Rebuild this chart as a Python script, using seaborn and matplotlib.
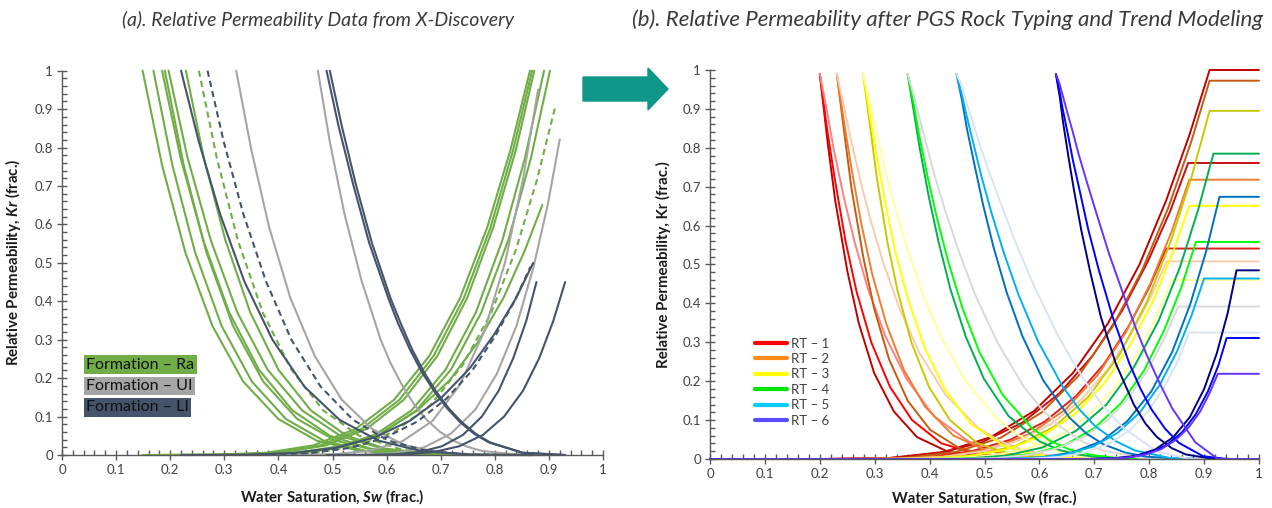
import matplotlib
matplotlib.use("Agg")
import matplotlib.pyplot as plt
import seaborn as sns
from matplotlib.ticker import MultipleLocator, FuncFormatter
from matplotlib.patches import FancyArrow
from matplotlib.lines import Line2D

sns.set_theme(style="white")
plt.rcParams['font.family'] = ['Lato', 'DejaVu Sans']
plt.rcParams['mathtext.fontset'] = 'custom'
try:
    plt.rcParams['mathtext.bfit'] = 'Lato:italic:bold'
    BFIT = True
except KeyError:
    BFIT = False

# ======================= panel (a): X-Discovery data =======================
left_group = ['Ra', 'Ra', 'Ra', 'Ra', 'Ra', 'Ra', 'Ra', 'UI', 'UI', 'LI', 'LI', 'LI', 'LI']
left_dashed = [False, False, False, False, False, False, True, False, False, False, True, False, False]
left_oil_sw = [
    [.149, .185, .228, .278, .335, .400, .471, .550, .636, .736, .865],
    [.169, .204, .246, .295, .351, .414, .484, .561, .645, .743, .869],
    [.185, .219, .261, .309, .364, .426, .495, .570, .653, .749, .873],
    [.190, .225, .267, .316, .372, .435, .506, .583, .667, .765, .891],
    [.197, .232, .275, .324, .380, .444, .514, .592, .676, .775, .902],
    [.229, .262, .302, .348, .400, .460, .526, .598, .677, .769, .888],
    [.253, .286, .325, .371, .424, .483, .549, .622, .700, .793, .911],
    [.322, .350, .383, .422, .467, .517, .573, .635, .701, .780, .880],
    [.473, .495, .522, .554, .589, .607, .630, .652, .674, .699, .723, .750, .777, .840, .920],
    [.220, .253, .292, .337, .389, .448, .513, .585, .663, .754, .871],
    [.269, .299, .335, .377, .424, .478, .538, .603, .675, .759, .866],
    [.489, .511, .538, .568, .604, .621, .643, .665, .688, .712, .736, .762, .789, .851, .930],
    [.495, .517, .543, .573, .608, .626, .647, .669, .691, .715, .739, .765, .791, .852, .930],
]
left_oil_kr = [
    [1, .754, .527, .336, .191, .0935, .0373, .0109, .0019, .0001, 0],
    [1, .754, .527, .336, .191, .0935, .0373, .0109, .0019, .0001, 0],
    [1, .774, .559, .371, .222, .116, .0503, .0165, .0034, .0002, 0],
    [1, .754, .527, .336, .191, .0935, .0373, .0109, .0019, .0001, 0],
    [1, .774, .559, .371, .222, .116, .0503, .0165, .0034, .0002, 0],
    [1, .774, .559, .371, .222, .116, .0503, .0165, .0034, .0002, 0],
    [1, .774, .559, .371, .222, .116, .0503, .0165, .0034, .0002, 0],
    [1, .794, .592, .409, .258, .144, .0679, .0249, .0059, .0004, 0],
    [1, .815, .628, .452, .300, .240, .178, .1296, .0915, .060, .0375, .0209, .0105, .0010, 0],
    [1, .815, .628, .452, .300, .178, .0915, .0375, .0105, .0010, 0],
    [1, .815, .628, .452, .300, .178, .0915, .0375, .0105, .0010, 0],
    [1, .857, .705, .551, .405, .343, .275, .216, .166, .1213, .0852, .0549, .0328, .0058, 0],
    [1, .857, .705, .551, .405, .343, .275, .216, .166, .1213, .0852, .0549, .0328, .0058, 0],
]
left_wat_sw = [
    [.149, .278, .378, .464, .543, .614, .679, .736, .786, .829, .865],
    [.169, .295, .393, .477, .554, .624, .687, .743, .792, .834, .869],
    [.185, .309, .405, .488, .563, .632, .694, .749, .797, .839, .873],
    [.190, .316, .414, .498, .576, .646, .709, .765, .814, .856, .891],
    [.197, .324, .423, .507, .585, .655, .719, .775, .825, .867, .902],
    [.229, .348, .440, .519, .592, .657, .717, .769, .816, .855, .888],
    [.253, .371, .464, .543, .615, .681, .740, .793, .839, .878, .911],
    [.322, .422, .500, .567, .629, .685, .735, .780, .819, .852, .880],
    [.473, .553, .616, .670, .719, .764, .804, .840, .871, .898, .920],
    [.220, .337, .428, .506, .578, .643, .702, .754, .799, .839, .871],
    [.269, .377, .460, .532, .597, .657, .711, .759, .800, .836, .866],
    [.489, .559, .613, .660, .702, .741, .776, .807, .834, .858, .877],
    [.495, .573, .634, .686, .734, .778, .817, .852, .882, .908, .930],
]
left_wat_kr = [
    [0, .0004, .0059, .0249, .0679, .144, .258, .409, .592, .794, 1],
    [0, .0004, .0059, .0249, .0679, .144, .258, .409, .592, .794, 1],
    [0, .0004, .0059, .0249, .0679, .144, .258, .409, .592, .794, 1],
    [0, .0002, .0034, .0165, .0503, .116, .222, .371, .559, .774, 1],
    [0, .0002, .0034, .0165, .0503, .116, .222, .371, .559, .774, 1],
    [0, .0007, .0068, .0244, .0596, .1159, .1953, .2943, .4088, .5306, .651],
    [0, .0004, .0053, .0225, .0612, .1299, .2327, .3689, .5340, .7162, .902],
    [0, .0001, .0018, .0104, .0355, .0889, .1816, .3195, .5012, .7171, .951],
    [0, .0003, .0048, .0204, .0557, .1182, .2118, .3358, .4860, .6519, .821],
    [0, .0005, .0053, .0188, .0458, .089, .15, .226, .314, .4075, .5],
    [0, .0005, .0051, .0184, .0448, .0872, .147, .2215, .3077, .3994, .49],
    [0, .0001, .0015, .0074, .0226, .0522, .0999, .167, .2516, .3483, .45],
    [0, .0001, .0015, .0074, .0226, .0522, .0999, .167, .2516, .3483, .45],
]
formation_names = ['Formation – Ra', 'Formation – UI', 'Formation – LI']
formation_keys = ['Ra', 'UI', 'LI']
formation_colors = {'Ra': '#70ad47', 'UI': '#a5a5a5', 'LI': '#44546a'}

# ======================= panel (b): rock-typed trend models =======================
rt_labels = ['RT – 1', 'RT – 2', 'RT – 3', 'RT – 4', 'RT – 5', 'RT – 6']
rt_legend_colors = ['#ff0000', '#ff8c1a', '#ffff00', '#00e600', '#00ccff', '#5a4cff']
rt_oil_colors = [['#c00000', '#ff0000', '#ff8080'],
                 ['#c55a11', '#ed7d31', '#f8cbad'],
                 ['#c9c900', '#ffff00', '#ffff99'],
                 ['#00b050', '#00ff00', '#d9d9d9'],
                 ['#0070c0', '#00b0f0', '#dae3f3'],
                 ['#000080', '#0000ff', '#6633ff']]
rt_wat_colors = [['#c00000', '#c41010', '#e02020'],
                 ['#c55a11', '#ed7d31', '#f8cbad'],
                 ['#c9c900', '#ffff00', '#ffff99'],
                 ['#00b050', '#00ff00', '#d9d9d9'],
                 ['#0070c0', '#00b0f0', '#dae3f3'],
                 ['#000080', '#0000ff', '#6633ff']]

rt_oil_sw = [
    [[.200, .214, .228, .250, .271, .299, .335, .377, .434, .505, .597, .711, .910, 1.0],
     [.200, .213, .227, .247, .267, .294, .328, .368, .421, .489, .576, .683, .871, 1.0],
     [.200, .213, .225, .244, .263, .288, .320, .358, .408, .471, .512, .553, .604, .654, .831, 1.0]],
    [[.231, .245, .258, .279, .299, .326, .360, .401, .455, .523, .611, .720, .910, 1.0],
     [.231, .244, .257, .276, .295, .321, .353, .392, .443, .507, .591, .693, .873, 1.0],
     [.231, .243, .255, .273, .291, .315, .345, .381, .429, .489, .528, .567, .616, .664, .832, 1.0]],
    [[.279, .292, .304, .323, .342, .367, .399, .437, .487, .550, .632, .733, .910, 1.0],
     [.279, .291, .303, .321, .338, .362, .392, .428, .475, .534, .573, .612, .659, .707, .873, 1.0],
     [.279, .290, .302, .318, .335, .358, .386, .420, .465, .521, .557, .594, .639, .684, .841, 1.0]],
    [[.360, .371, .382, .399, .416, .438, .466, .499, .544, .600, .636, .672, .717, .761, .839, .917, 1.0],
     [.360, .371, .381, .397, .413, .434, .460, .491, .533, .586, .620, .654, .696, .738, .812, .885, 1.0],
     [.360, .370, .380, .395, .409, .429, .454, .483, .523, .572, .604, .636, .676, .715, .784, .853, 1.0]],
    [[.449, .459, .468, .483, .497, .516, .540, .569, .607, .655, .686, .717, .756, .794, .861, .928, 1.0],
     [.449, .458, .467, .481, .494, .512, .535, .562, .598, .643, .672, .701, .738, .774, .837, .900, 1.0],
     [.449, .458, .466, .479, .491, .508, .530, .555, .589, .631, .659, .686, .720, .754, .814, .873, 1.0]],
    [[.630, .637, .643, .653, .663, .676, .693, .712, .739, .772, .793, .814, .841, .867, .913, .959, 1.0],
     [.630, .636, .642, .652, .661, .674, .689, .708, .733, .764, .784, .804, .829, .854, .898, .941, 1.0],
     [.630, .636, .642, .651, .660, .671, .686, .704, .727, .757, .776, .795, .819, .842, .884, .925, 1.0]],
]
rt_oil_kr = [
    [[.99, .817, .665, .484, .349, .221, .122, .0563, .0182, .0036, .0003, 0, 0, 0],
     [.99, .851, .722, .559, .430, .299, .185, .100, .0406, .0111, .0014, 0, 0, 0],
     [.99, .895, .799, .671, .560, .436, .314, .206, .110, .0454, .0233, .0109, .0036, .0009, 0, 0]],
    [[.99, .834, .693, .520, .387, .257, .150, .0751, .0272, .0064, .0006, 0, 0, 0],
     [.99, .868, .752, .602, .478, .348, .229, .134, .0606, .0196, .0032, .0001, 0, 0],
     [.99, .913, .832, .721, .622, .507, .387, .274, .165, .0797, .0462, .0249, .0101, .0033, 0, 0]],
    [[.99, .851, .722, .559, .430, .299, .185, .100, .0406, .0111, .0014, 0, 0, 0],
     [.99, .886, .783, .647, .531, .405, .283, .178, .0904, .0343, .0166, .0073, .0022, .0005, 0, 0],
     [.99, .922, .849, .748, .656, .547, .430, .316, .202, .106, .065, .0375, .0168, .0061, 0, 0]],
    [[.99, .895, .799, .671, .560, .436, .314, .206, .110, .0454, .0233, .0109, .0036, .0009, 0, 0, 0],
     [.99, .913, .832, .721, .622, .507, .387, .274, .165, .0797, .0462, .0249, .0101, .0033, .0001, 0, 0],
     [.99, .941, .885, .804, .729, .636, .531, .422, .301, .185, .1288, .0852, .0467, .0220, .0027, 0, 0]],
    [[.99, .922, .849, .748, .656, .547, .430, .316, .202, .106, .065, .0375, .0168, .0061, .0004, 0, 0],
     [.99, .941, .885, .804, .729, .636, .531, .422, .301, .185, .1288, .0852, .0467, .0220, .0027, 0, 0],
     [.99, .9604, .9216, .8649, .81, .7396, .6561, .5625, .4489, .3249, .255, .1936, .1296, .0784, .0196, 0,
      0]],
    [[.99, .932, .867, .776, .691, .590, .478, .365, .246, .140, .0915, .0565, .028, .0116, .001, 0, 0],
     [.99, .951, .903, .834, .768, .686, .590, .487, .367, .245, .181, .128, .0778, .0415, .0073, 0, 0],
     [.99, .968, .937, .890, .845, .786, .714, .631, .527, .407, .335, .269, .195, .130, .043, 0, 0]],
]
rt_wat_sw = [
    [[0, .200, .328, .427, .512, .590, .661, .725, .782, .831, .874, .910, 1.0],
     [0, .200, .321, .415, .495, .569, .636, .697, .750, .797, .838, .871, 1.0],
     [0, .200, .314, .402, .478, .547, .610, .667, .718, .762, .800, .831, 1.0]],
    [[0, .231, .353, .448, .530, .604, .672, .733, .787, .835, .876, .910, 1.0],
     [0, .231, .347, .436, .514, .584, .648, .706, .757, .802, .841, .873, 1.0],
     [0, .231, .339, .423, .495, .561, .622, .676, .724, .766, .802, .832, 1.0]],
    [[0, .279, .393, .481, .556, .626, .689, .746, .796, .840, .878, .910, 1.0],
     [0, .279, .386, .469, .540, .606, .665, .719, .766, .808, .843, .873, 1.0],
     [0, .279, .380, .459, .526, .588, .644, .695, .740, .779, .813, .841, 1.0]],
    [[0, .360, .460, .538, .605, .666, .722, .772, .817, .856, .889, .917, 1.0],
     [0, .360, .455, .528, .591, .649, .701, .749, .791, .827, .859, .885, 1.0],
     [0, .360, .449, .518, .577, .631, .681, .725, .764, .799, .828, .853, 1.0]],
    [[0, .449, .535, .602, .660, .713, .760, .804, .842, .875, .904, .928, 1.0],
     [0, .449, .530, .593, .647, .697, .742, .783, .819, .850, .877, .900, 1.0],
     [0, .449, .525, .585, .636, .682, .725, .763, .797, .826, .852, .873, 1.0]],
    [[0, .630, .689, .735, .775, .811, .844, .874, .900, .923, .943, .959, 1.0],
     [0, .630, .686, .730, .767, .801, .832, .860, .885, .907, .926, .941, 1.0],
     [0, .630, .683, .724, .760, .792, .822, .848, .872, .893, .910, .925, 1.0]],
]
rt_wat_kr = [
    [[0, 0, .0025, .0185, .0565, .123, .221, .349, .499, .665, .836, 1.0, 1.0],
     [0, 0, .0019, .0141, .0430, .0936, .1682, .2656, .3797, .5061, .6362, .761, .761],
     [0, 0, .0005, .0057, .0203, .0495, .0963, .1623, .2445, .3397, .4409, .541, .541]],
    [[0, 0, .0024, .0180, .0549, .1196, .2149, .3394, .4853, .6467, .8130, .9725, .9725],
     [0, 0, .0007, .0075, .0269, .0657, .1278, .2154, .3245, .4509, .5852, .718, .718],
     [0, 0, .0005, .0053, .0191, .0465, .0904, .1524, .2296, .3190, .4140, .508, .508]],
    [[0, 0, .0009, .0094, .0336, .0819, .1593, .2685, .4045, .5621, .7294, .895, .895],
     [0, 0, .0007, .0068, .0244, .0596, .1159, .1953, .2943, .4088, .5306, .651, .651],
     [0, 0, .0002, .0027, .0115, .0312, .0662, .1187, .1881, .2723, .3652, .46, .46]],
    [[0, 0, .0008, .0082, .0294, .0718, .1397, .2355, .3548, .4930, .6398, .785, .785],
     [0, 0, .0002, .0033, .0139, .0379, .0804, .1440, .2282, .3303, .4431, .558, .558],
     [0, 0, .0002, .0023, .0098, .0266, .0564, .1011, .1603, .2321, .3112, .392, .392]],
    [[0, 0, .0003, .0040, .0168, .0458, .0971, .1739, .2757, .3990, .5352, .674, .674],
     [0, 0, .0002, .0027, .0116, .0315, .0668, .1197, .1898, .2747, .3684, .464, .464],
     [0, 0, .0001, .0011, .0054, .0163, .0377, .0722, .1206, .1817, .2516, .325, .325]],
    [[0, 0, .0001, .0016, .0080, .0244, .0563, .1077, .1799, .2711, .3754, .485, .485],
     [0, 0, .0001, .0011, .0051, .0156, .0361, .0690, .1154, .1738, .2407, .311, .311],
     [0, 0, 0, .0007, .0036, .0110, .0254, .0486, .0812, .1224, .1695, .219, .219]],
]

# ======================= figure =======================
fig = plt.figure(figsize=(12.72, 5.08), dpi=100)
axL = fig.add_axes([62 / 1272, 53 / 508, 541 / 1272, 384.3 / 508])
axR = fig.add_axes([710 / 1272, 49 / 508, 549 / 1272, 389 / 508])

AXC = '#595959'


def style(ax):
    ax.set_xlim(0, 1)
    ax.set_ylim(0, 1)
    ax.grid(False)
    for s in ['top', 'right']:
        ax.spines[s].set_visible(False)
    for s in ['left', 'bottom']:
        ax.spines[s].set_color(AXC)
        ax.spines[s].set_linewidth(1.0)
    for a in (ax.xaxis, ax.yaxis):
        a.set_major_locator(MultipleLocator(0.1))
        a.set_minor_locator(MultipleLocator(0.02))
        a.set_major_formatter(FuncFormatter(lambda v, p: f'{v:g}'))
    ax.tick_params(which='major', direction='inout', length=7, width=1, color=AXC,
                   labelsize=9.5, labelcolor='#404040', bottom=True, left=True, pad=3)
    ax.tick_params(which='minor', direction='in', length=3.5, width=1, color=AXC,
                   bottom=True, left=True)


style(axL)
style(axR)

# ---- panel (a) curves
for grp in formation_keys:
    for i in range(len(left_group)):
        if left_group[i] != grp:
            continue
        ls = (0, (3, 2)) if left_dashed[i] else '-'
        for sw, kr in ((left_oil_sw[i], left_oil_kr[i]), (left_wat_sw[i], left_wat_kr[i])):
            sns.lineplot(x=sw, y=kr, ax=axL, color=formation_colors[grp], lw=1.5,
                         linestyle=ls, estimator=None, sort=False, legend=False, clip_on=False)

for j, (name, grp) in enumerate(zip(formation_names, formation_keys)):
    axL.text(0.045, 0.235 - j * 0.0555, name, transform=axL.transAxes, fontsize=11.5,
             color='#111111', va='center', ha='left',
             bbox=dict(boxstyle='square,pad=0.14', fc=formation_colors[grp], ec='none'))

# ---- panel (b) curves
for g in range(6):
    for k in range(3):
        sns.lineplot(x=rt_oil_sw[g][k], y=rt_oil_kr[g][k], ax=axR, color=rt_oil_colors[g][k],
                     lw=1.4, estimator=None, sort=False, legend=False, clip_on=False)
        sns.lineplot(x=rt_wat_sw[g][k], y=rt_wat_kr[g][k], ax=axR, color=rt_wat_colors[g][k],
                     lw=1.4, estimator=None, sort=False, legend=False, clip_on=False)

handles = [Line2D([], [], color=c, lw=3) for c in rt_legend_colors]
axR.legend(handles, rt_labels, loc='upper left', bbox_to_anchor=(0.082, 0.312), frameon=False,
           borderpad=0, borderaxespad=0, fontsize=9.5, handlelength=2.4, handletextpad=0.3,
           labelspacing=0.26, labelcolor='#404040')

# ---- labels
if BFIT:
    xl = r'Water Saturation, $\mathbfit{Sw}$ (frac.)'
    yl = r'Relative Permeability, $\mathbfit{Kr}$ (frac.)'
else:
    xl = 'Water Saturation, Sw (frac.)'
    yl = 'Relative Permeability, Kr (frac.)'
axL.set_xlabel(xl, fontsize=10.8, fontweight='bold', color='#1a1a1a', labelpad=8)
axL.set_ylabel(yl, fontsize=10.8, fontweight='bold', color='#1a1a1a', labelpad=8)
axR.set_xlabel('Water Saturation, Sw (frac.)', fontsize=10.8, fontweight='bold', color='#1a1a1a', labelpad=8)
axR.set_ylabel('Relative Permeability, Kr (frac.)', fontsize=10.8, fontweight='bold', color='#1a1a1a',
               labelpad=8)

fig.text(318 / 1272, 1 - 20 / 508, '(a). Relative Permeability Data from X-Discovery', ha='center',
         va='center', fontsize=14, style='italic', color='#3a3a3a')
fig.text(948 / 1272, 1 - 20 / 508, '(b). Relative Permeability after PGS Rock Typing and Trend Modeling',
         ha='center', va='center', fontsize=16, style='italic', color='#3a3a3a')

fig.patches.append(FancyArrow(5.83, 5.08 - 0.89, 0.85, 0, width=0.24, head_width=0.42, head_length=0.20,
                              length_includes_head=True, color='#0e9688', transform=fig.dpi_scale_trans,
                              figure=fig))

fig.savefig('out.png', dpi=100, facecolor='white')
